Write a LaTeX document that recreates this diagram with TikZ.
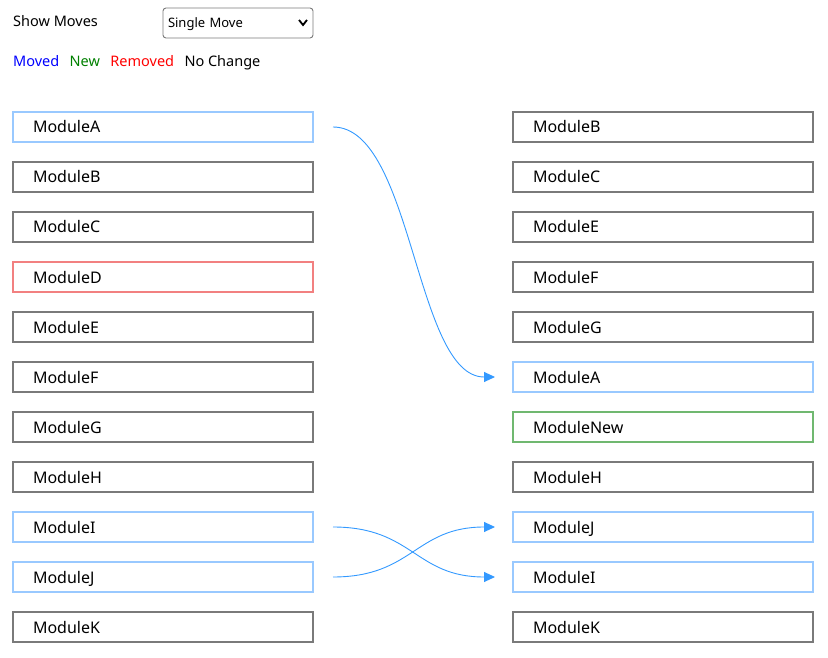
\documentclass[tikz,border=0pt]{standalone}
\usepackage{fontspec}
\setmainfont{Noto Sans}
\usetikzlibrary{
arrows.meta,
positioning
}
\definecolor{keptline}{RGB}{122,122,122}
\definecolor{movedline}{RGB}{153,201,255}
\definecolor{addedline}{RGB}{112,184,112}
\definecolor{removedline}{RGB}{242,128,128}
\definecolor{flowblue}{RGB}{51,153,255}
\definecolor{legendgreen}{RGB}{0,128,0}

\begin{document}
\begin{tikzpicture}[
    x=1pt, y=-1pt,
    >={Triangle[length=11pt,width=10pt]},
    node distance=20pt,
    mod/.style={draw=keptline, line width=1.6pt, outer sep=0pt,
      minimum height=30pt, text width=260pt, inner xsep=20pt, inner ysep=0pt,
      text height=12pt, text depth=0pt,
      align=left, font=\fontsize{16}{19}\selectfont},
    moved/.style={mod, draw=movedline},
    added/.style={mod, draw=addedline},
    removed/.style={mod, draw=removedline},
    label/.style={inner sep=0pt, anchor=west, text height=10.5pt, text depth=0pt,
      font=\fontsize{14.5}{17}\selectfont},
    flow/.style={->, draw=flowblue, line width=0.9pt}]
  \useasboundingbox (0,0) rectangle (828,658);
  % header
  \node[label] (show) at (13,21) {Show Moves};
  \node[draw=keptline, line width=0.9pt, rounded corners=3pt, outer sep=0pt,
    minimum height=30pt, text width=140pt, inner xsep=5pt, align=left,
    text height=9.5pt, text depth=0pt,
    font=\fontsize{13}{16}\selectfont] (sel) at (238,23) {Single Move};
  \draw[line width=1.8pt] ([xshift=-14pt,yshift=3pt]sel.east) -- ++(4,5) -- ++(4,-5);
  % legend
  \node[label, text=blue] (mv) at (13,61) {Moved};
  \node[label, text=legendgreen, right=10pt of mv] (nw) {New};
  \node[label, text=red, right=10pt of nw] (rm) {Removed};
  \node[label, right=10pt of rm] (nc) {No Change};
  % old order
  \node[moved] (lA) at (163,127) {ModuleA};
  \node[mod, below=of lA] (lB) {ModuleB};
  \node[mod, below=of lB] (lC) {ModuleC};
  \node[removed, below=of lC] (lD) {ModuleD};
  \node[mod, below=of lD] (lE) {ModuleE};
  \node[mod, below=of lE] (lF) {ModuleF};
  \node[mod, below=of lF] (lG) {ModuleG};
  \node[mod, below=of lG] (lH) {ModuleH};
  \node[moved, below=of lH] (lI) {ModuleI};
  \node[moved, below=of lI] (lJ) {ModuleJ};
  \node[mod, below=of lJ] (lK) {ModuleK};
  % new order
  \node[mod, right=200pt of lA] (rB) {ModuleB};
  \node[mod, below=of rB] (rC) {ModuleC};
  \node[mod, below=of rC] (rE) {ModuleE};
  \node[mod, below=of rE] (rF) {ModuleF};
  \node[mod, below=of rF] (rG) {ModuleG};
  \node[moved, below=of rG] (rA) {ModuleA};
  \node[added, below=of rA] (rN) {ModuleNew};
  \node[mod, below=of rN] (rH) {ModuleH};
  \node[moved, below=of rH] (rJ) {ModuleJ};
  \node[moved, below=of rJ] (rI) {ModuleI};
  \node[mod, below=of rI] (rK) {ModuleK};
  % moves
  \draw[flow] ([xshift=20pt]lA.east) .. controls +(80,0) and +(-80,0) .. ([xshift=-18pt]rA.west);
  \draw[flow] ([xshift=20pt]lI.east) .. controls +(80,0) and +(-80,0) .. ([xshift=-18pt]rI.west);
  \draw[flow] ([xshift=20pt]lJ.east) .. controls +(80,0) and +(-80,0) .. ([xshift=-18pt]rJ.west);
\end{tikzpicture}
\end{document}
